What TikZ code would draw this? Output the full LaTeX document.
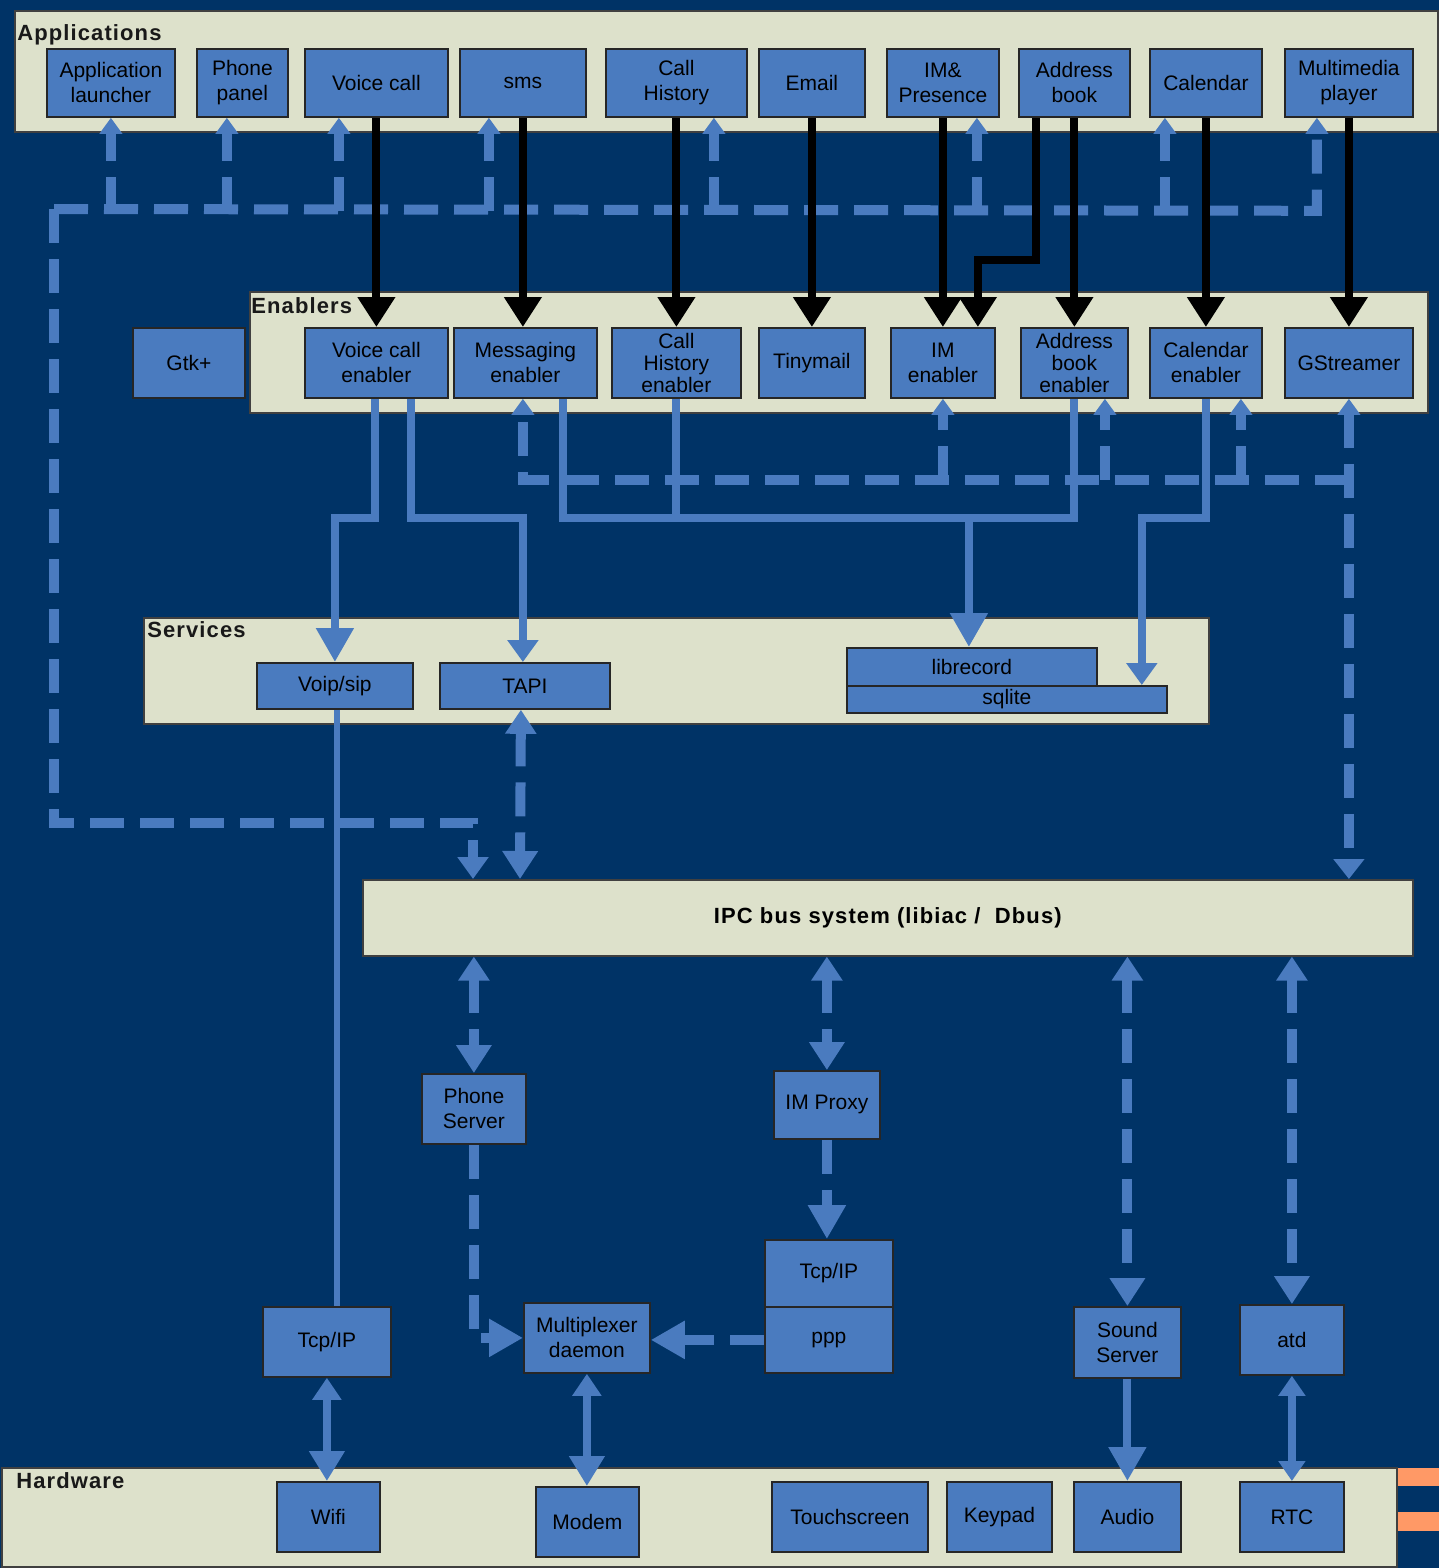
\documentclass[tikz,border=0pt]{standalone}
\usepackage{fontspec}
\setmainfont{Liberation Sans}
\newfontfamily\lblfam[LetterSpace=5]{Liberation Sans}
\usetikzlibrary{arrows.meta,calc}
\definecolor{navy}{RGB}{0,51,102}
\definecolor{panelc}{RGB}{221,225,203}
\definecolor{boxc}{RGB}{74,123,191}
\definecolor{orangec}{RGB}{255,153,102}
\newcommand\boxfont{\fontsize{10.5}{12.5}\selectfont}
\newcommand\boxfontc{\fontsize{10.5}{11.2}\selectfont}
\newcommand\lblfont{\lblfam\bfseries\fontsize{11}{13}\selectfont}
\tikzset{
  panel/.style={draw=black!75, fill=panelc, line width=0.8pt, anchor=north west, inner sep=0pt},
  box/.style={draw=black!85, fill=boxc, line width=0.9pt, anchor=north west, inner sep=0pt, align=center, font=\boxfont, text=black},
  lbl/.style={anchor=base west, inner sep=0pt, font=\lblfont, text=black!90},
  blk/.style={draw=black, line width=4pt, -{Triangle[width=18pt,length=15pt]}},
  bsol/.style={draw=boxc, line width=4pt},
  bdash/.style={draw=boxc, line width=5pt, dash pattern=on 17pt off 8pt},
  tipS/.style={-{Triangle[width=11pt,length=8pt]}},
  tipM/.style={-{Triangle[width=15pt,length=11pt]}},
  tipL/.style={-{Triangle[width=18pt,length=17pt]}},
  tipDD/.style={{Triangle[width=15pt,length=12pt]}-{Triangle[width=17pt,length=14pt]}},
  tipDS/.style={{Triangle[width=14pt,length=11pt]}-{Triangle[width=17pt,length=15pt]}},
}
\newcommand\mkbox[7][]{\node[box,#1,minimum width={(#5-#3)*0.5pt},minimum height={(#6-#4)*0.5pt}] (#2) at (#3,#4) {#7};}
\newcommand\mkpan[5]{\node[panel,minimum width={(#4-#2)*0.5pt},minimum height={(#5-#3)*0.5pt}] (#1) at (#2,#3) {};}
\begin{document}
\begin{tikzpicture}[x=0.5pt,y=-0.5pt]
\fill[navy] (0,0) rectangle (1439,1568);
\useasboundingbox (0,0) rectangle (1439,1568);
% orange bars
\fill[orangec] (1398,1468) rectangle (1439,1486);
\fill[orangec] (1398,1512) rectangle (1439,1531);
% panels
\mkpan{papp}{14}{10}{1437}{131}
\mkpan{pen}{249}{291}{1427}{412}
\mkpan{psrv}{143}{617}{1208}{723}
\mkpan{phw}{1}{1467}{1396}{1566}
\node[lbl] (lapp) at (17,41) {Applications};
\node[lbl] (len) at (251,313) {Enablers};
\node[lbl] (lsrv) at (147,637) {Services};
\node[lbl] (lhw) at (16,1488) {Hardware};
\node[panel,minimum width={(1412-362)*0.5pt},minimum height={(955-879)*0.5pt},font=\lblfont] (ipc) at (362,879) {IPC bus system (libiac /\ \ Dbus)};
% application boxes
\mkbox{a_al}{46}{48}{174}{116}{Application\\launcher}
\mkbox{a_pp}{196}{48}{287}{116}{Phone\\panel}
\mkbox{a_vc}{304}{48}{447}{116}{Voice call}
\mkbox{a_sms}{459}{48}{585}{116}{sms}
\mkbox{a_ch}{605}{48}{746}{116}{Call\\History}
\mkbox{a_em}{758}{48}{864}{116}{Email}
\mkbox{a_im}{886}{48}{998}{116}{IM\&\\Presence}
\mkbox{a_ab}{1018}{48}{1129}{116}{Address\\book}
\mkbox{a_cal}{1149}{48}{1261}{116}{Calendar}
\mkbox{a_mm}{1284}{48}{1412}{116}{Multimedia\\player}
% enablers
\mkbox{gtk}{132}{327}{244}{397}{Gtk+}
\mkbox{e_vc}{304}{327}{447}{397}{Voice call\\enabler}
\mkbox{e_msg}{453}{327}{596}{397}{Messaging\\enabler}
\mkbox[font=\boxfontc]{e_ch}{611}{327}{740}{397}{Call\\History\\enabler}
\mkbox{e_tm}{758}{327}{864}{397}{Tinymail}
\mkbox{e_im}{890}{327}{994}{397}{IM\\enabler}
\mkbox[font=\boxfontc]{e_ab}{1020}{327}{1127}{397}{Address\\book\\enabler}
\mkbox{e_cal}{1149}{327}{1261}{397}{Calendar\\enabler}
\mkbox{e_gs}{1284}{327}{1412}{397}{GStreamer}
% services
\mkbox{vs}{256}{662}{412}{708}{Voip/sip}
\mkbox{tapi}{439}{662}{609}{708}{TAPI}
\mkbox{sq}{846}{685}{1166}{712}{sqlite}
\mkbox{lr}{846}{647}{1096}{685}{librecord}
% lower
\mkbox{ps}{421}{1073}{525}{1143}{Phone\\Server}
\mkbox{imp}{773}{1070}{879}{1138}{IM Proxy}
\mkbox{tcpR}{764}{1239}{892}{1306}{Tcp/IP}
\mkbox{ppp}{764}{1306}{892}{1372}{ppp}
\mkbox{tcpL}{262}{1306}{390}{1376}{Tcp/IP}
\mkbox{mux}{523}{1302}{649}{1372}{Multiplexer\\daemon}
\mkbox{snd}{1073}{1306}{1180}{1377}{Sound\\Server}
\mkbox{atd}{1239}{1304}{1343}{1374}{atd}
% hardware
\mkbox{wifi}{276}{1481}{379}{1551}{Wifi}
\mkbox{modem}{535}{1486}{638}{1556}{Modem}
\mkbox{touch}{771}{1481}{927}{1551}{Touchscreen}
\mkbox{keypad}{946}{1481}{1051}{1551}{Keypad}
\mkbox{audio}{1073}{1481}{1180}{1551}{Audio}
\mkbox{rtc}{1239}{1481}{1343}{1551}{RTC}

% ---- upper dashed bus
\coordinate (bl) at (54,209);
\draw[bdash,tipS] (bl) -- ($(a_mm.south)+(-32,93)$) -- ($(a_mm.south)+(-32,0)$);
\draw[bdash,tipM] (bl) -- ++(0,614) -| ($(ipc.north west)+(111,0)$);
\foreach \n/\dx in {a_al/0, a_pp/-15.5, a_vc/-37.5, a_sms/-34, a_ch/37.5, a_im/34, a_cal/-41}{
  \draw[bdash,tipS] ($(\n.south)+(\dx,93)$) -- ($(\n.south)+(\dx,0)$);
}
% ---- lower dashed bus
\draw[bdash,tipS] ($(e_gs.south)+(0,81)$) -- ($(e_msg.south)+(-2.5,81)$) -- ($(e_msg.south)+(-2.5,0)$);
\foreach \n/\dx in {e_im/0, e_ab/30.5, e_cal/35}{
  \draw[bdash,tipS] ($(\n.south)+(\dx,81)$) -- ($(\n.south)+(\dx,0)$);
}
\draw[bdash,{Triangle[width=11pt,length=8pt]}-{Triangle[width=15pt,length=10pt]}] (e_gs.south) -- (e_gs.south |- ipc.north);

% ---- solid blue from enablers
\draw[bsol,tipL] ($(e_vc.south)+(-1.5,0)$) -- ++(0,119) -| (vs.north);
\draw[bsol,tipM] ($(e_vc.south)+(34.5,0)$) -- ++(0,119) -| ($(tapi.north)+(-2,0)$);
\draw[bsol] ($(e_msg.south)+(37.5,0)$) -- ++(0,119) -- ($(e_ab.south)+(0,119)$) -- (e_ab.south);
\draw[bsol] (e_ch.south) -- ++(0,119);
\draw[bsol,tipL] ($(lr.north)+(-3,-131)$) -- ($(lr.north)+(-3,0)$);
\draw[bsol,tipM] (e_cal.south) -- ++(0,119) -| ($(sq.north east)+(-26,0)$);
\draw[bsol,line width=3pt] ($(vs.south)+(2,0)$) -- ($(tcpL.north)+(10,0)$);

% ---- black arrows
\draw[blk] (a_vc.south) -- (e_vc.north);
\draw[blk] (a_sms.south) -- (a_sms.south |- e_msg.north);
\draw[blk] (a_ch.south) -- (e_ch.north);
\draw[blk] (a_em.south) -- (e_tm.north);
\draw[blk] (a_im.south) -- (e_im.north);
\draw[blk] ($(a_ab.south)+(-38.5,0)$) -- ++(0,142) -| ($(e_im.north)+(35,0)$);
\draw[blk] (a_ab.south) -- (e_ab.north);
\draw[blk] (a_cal.south) -- (e_cal.north);
\draw[blk] (a_mm.south) -- (e_gs.north);

% ---- dashed double arrows to IPC
\draw[bdash,tipDD] ($(tapi.south)+(-4,0)$) -- ($(ipc.north west)+(158,0)$);
\draw[bdash,tipDD] (ps.north |- ipc.south) -- (ps.north);
\draw[bdash,tipDD] (imp.north |- ipc.south) -- (imp.north);
\draw[bdash,tipDD] (snd.north |- ipc.south) -- (snd.north);
\draw[bdash,tipDD] (atd.north |- ipc.south) -- (atd.north);
% ---- lower dashed
\draw[bdash,tipL] (ps.south) |- (mux.west);
\draw[bdash,tipL] (imp.south) -- (imp.south |- tcpR.north);
\draw[bdash,tipL] (ppp.west) -- (ppp.west -| mux.east);
% ---- solid to hardware
\draw[bsol,tipDS] (tcpL.south) -- (tcpL.south |- wifi.north);
\draw[bsol,tipDS] (mux.south) -- (mux.south |- modem.north);
\draw[bsol,tipL] (snd.south) -- (snd.south |- audio.north);
\draw[bsol,{Triangle[width=13pt,length=10pt]}-{Triangle[width=13pt,length=10pt]}] (atd.south) -- (atd.south |- rtc.north);
\end{tikzpicture}
\end{document}
